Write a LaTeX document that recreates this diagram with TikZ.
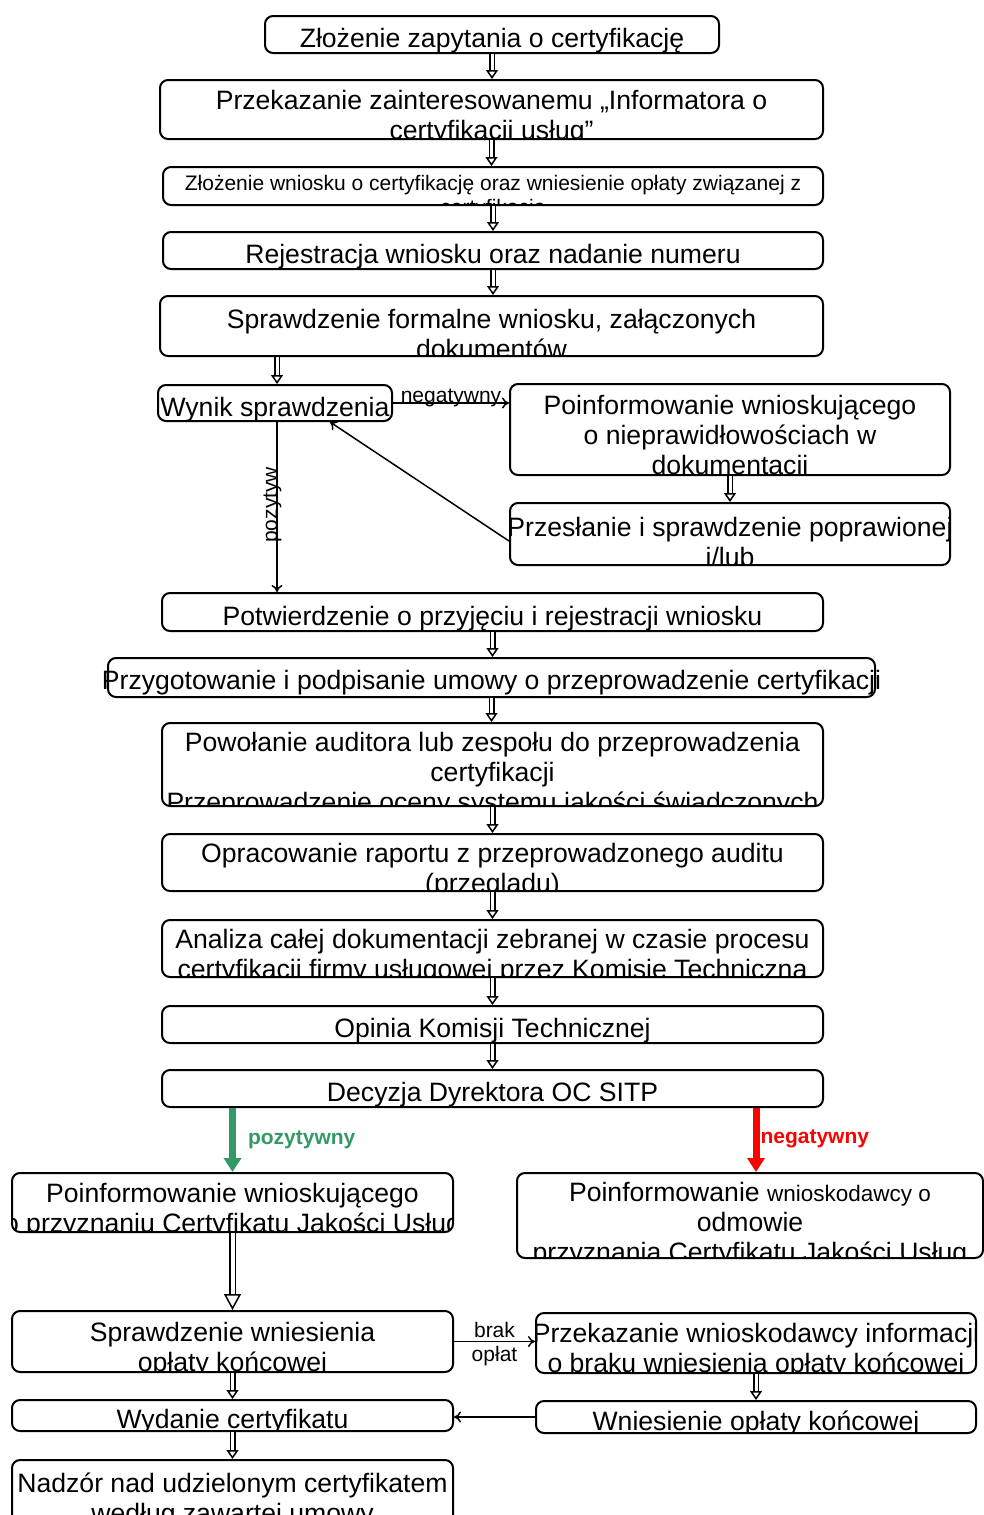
\documentclass[tikz,border=0pt]{standalone}
\usepackage{fontspec}
\setmainfont{Liberation Sans}
\usetikzlibrary{arrows.meta}

\newcommand\boxfnt{\fontsize{26.6}{30}\selectfont}
\newcommand\lblfnt{\fontsize{21}{24}\selectfont}
\definecolor{posgreen}{RGB}{51,153,102}

\begin{document}
\begin{tikzpicture}[x=1pt,y=-1pt,
  box/.style={draw,rounded corners=8pt,line width=2pt,inner sep=0pt},
  txtnode/.style={anchor=north,inner sep=0pt,align=center,font=\boxfnt},
  txt/.style={path picture={\node[txtnode] at ([yshift=-6pt]path picture bounding box.north) {\strut #1};}},
  flow/.style={line width=1.5pt,-{To[length=7pt,width=11pt]}},
  dflow/.style={double,double distance=3pt,line width=1.5pt,-{Triangle[open,length=9pt,width=12pt,line width=1.5pt]}},
  dflowbig/.style={dflow,double distance=4pt,-{Triangle[open,length=16pt,width=17pt,line width=1.5pt]}},
  yesflow/.style={posgreen,line width=7pt,-{Triangle[length=14pt,width=17pt]}},
  noflow/.style={red,line width=7pt,-{Triangle[length=14pt,width=17pt]}},
  lbl/.style={font=\lblfnt,inner sep=0pt}]
  \useasboundingbox (0,0) rectangle (984,1515);

  % main column
  \node[box, minimum width=454pt, minimum height=37pt, txt={Złożenie zapytania o certyfikację}] (zap) at (492,34.5) {};
  \node[box, minimum width=663pt, minimum height=59pt, txt={Przekazanie zainteresowanemu „Informatora o\\ certyfikacji usług”}] (inf) at (491.5,109.5) {};
  \node[box, minimum width=660pt, minimum height=38pt, txtnode/.append style={font=\lblfnt}, txt={Złożenie wniosku o certyfikację oraz wniesienie opłaty związanej z\\ certyfikacją}] (wni) at (493,186) {};
  \node[box, minimum width=660pt, minimum height=37pt, txt={Rejestracja wniosku oraz nadanie numeru}] (rej) at (493,250.5) {};
  \node[box, minimum width=663pt, minimum height=60pt, txt={Sprawdzenie formalne wniosku, załączonych\\ dokumentów}] (spr) at (491.5,326) {};
  \node[box, minimum width=234pt, minimum height=36pt, txt={Wynik sprawdzenia}] (wyn) at (275,403) {};
  \node[box, minimum width=440pt, minimum height=91pt, txt={Poinformowanie wnioskującego\\ o nieprawidłowościach w\\ dokumentacji}] (bledy) at (730,429.5) {};
  \node[box, minimum width=440pt, minimum height=62pt, txt={Przesłanie i sprawdzenie poprawionej\\ i/lub}] (popr) at (730,534) {};
  \node[box, minimum width=661pt, minimum height=38pt, txt={Potwierdzenie o przyjęciu i rejestracji wniosku}] (pot) at (492.5,612) {};
  \node[box, minimum width=767pt, minimum height=39pt, font=\boxfnt, text height=24pt, text depth=0pt] (umo) at (491.5,677.5) {\makebox[0pt]{Przygotowanie i podpisanie umowy o przeprowadzenie certyfikacji}};
  \node[box, minimum width=661pt, minimum height=83pt, txt={Powołanie auditora lub zespołu do przeprowadzenia\\ certyfikacji\\ Przeprowadzenie oceny systemu jakości świadczonych}] (aud) at (492.5,764.5) {};
  \node[box, minimum width=661pt, minimum height=57pt, txt={Opracowanie raportu z przeprowadzonego auditu\\ (przeglądu)}] (rap) at (492.5,862.5) {};
  \node[box, minimum width=661pt, minimum height=57pt, txt={Analiza całej dokumentacji zebranej w czasie procesu\\ certyfikacji firmy usługowej przez Komisję Techniczną}] (ana) at (492.5,948.5) {};
  \node[box, minimum width=661pt, minimum height=37pt, txt={Opinia Komisji Technicznej}] (opi) at (492.5,1024.5) {};
  \node[box, minimum width=661pt, minimum height=37pt, txt={Decyzja Dyrektora OC SITP}] (dec) at (492.5,1088.5) {};

  % decision branches
  \node[box, minimum width=441pt, minimum height=59pt, txt={Poinformowanie wnioskującego\\ o przyznaniu Certyfikatu Jakości Usług}] (przyz) at (232.5,1202.5) {};
  \node[box, minimum width=466pt, minimum height=85pt, txt={Poinformowanie {\fontsize{22.5}{30}\selectfont wnioskodawcy o}\\ odmowie\\ przyznania Certyfikatu Jakości Usług}] (odm) at (750,1215.5) {};
  \node[box, minimum width=441pt, minimum height=61pt, txt={Sprawdzenie wniesienia\\ opłaty końcowej}] (opl) at (232.5,1341.5) {};
  \node[box, minimum width=440pt, minimum height=60pt, txt={Przekazanie wnioskodawcy informacji\\ o braku wniesienia opłaty końcowej}] (brak) at (756,1343) {};
  \node[box, minimum width=441pt, minimum height=31pt, txt={Wydanie certyfikatu}] (wyd) at (232.5,1415.5) {};
  \node[box, minimum width=440pt, minimum height=32pt, txt={Wniesienie opłaty końcowej}] (wnies) at (756,1417) {};
  \node[box, minimum width=441pt, minimum height=65pt, txt={Nadzór nad udzielonym certyfikatem\\ według zawartej umowy}] (nadz) at (232.5,1492.5) {};

  \draw[dflow] (zap) -- (zap |- inf.north);
  \draw[dflow] (inf) -- (inf |- wni.north);
  \draw[dflow] (wni) -- (wni |- rej.north);
  \draw[dflow] (rej) -- (rej |- spr.north);
  \draw[dflow] ([xshift=2pt]wyn.north |- spr.south) -- ([xshift=2pt]wyn.north);
  \draw[flow] (wyn.east) -- (wyn.east -| bledy.west)
    node[lbl, midway, anchor=base, yshift=1pt] {negatywny};
  \draw[dflow] (bledy) -- (popr);
  \draw[flow] ([yshift=-7pt]popr.west) -- ([xshift=55pt]wyn.south);
  \draw[flow] ([xshift=2pt]wyn.south) -- ([xshift=2pt]wyn.south |- pot.north)
    node[lbl, pos=0.47, rotate=90, anchor=base, xshift=-3pt] {pozytyw};
  \draw[dflow] (pot) -- (pot |- umo.north);
  \draw[dflow] (umo) -- (umo |- aud.north);
  \draw[dflow] (aud) -- (aud |- rap.north);
  \draw[dflow] (rap) -- (rap |- ana.north);
  \draw[dflow] (ana) -- (ana |- opi.north);
  \draw[dflow] (opi) -- (opi |- dec.north);
  \draw[yesflow] (przyz |- dec.south) -- (przyz)
    node[lbl, pos=0.5, anchor=west, xshift=12pt, font=\lblfnt\bfseries] {pozytywny};
  \draw[noflow] ([xshift=6pt]odm.north |- dec.south) -- ([xshift=6pt]odm.north)
    node[lbl, pos=0.49, anchor=west, xshift=1pt, font=\lblfnt\bfseries] {negatywny};
  \draw[dflowbig] (przyz) -- (opl);
  \draw[flow] (opl.east) -- (opl.east -| brak.west)
    node[lbl, midway, above=3pt] {brak}
    node[lbl, midway, below=4pt] {opłat};
  \draw[dflow] (opl) -- (wyd);
  \draw[dflow] (brak) -- (wnies);
  \draw[flow] (wnies) -- (wnies -| wyd.east);
  \draw[dflow] (wyd) -- (nadz);
\end{tikzpicture}
\end{document}
